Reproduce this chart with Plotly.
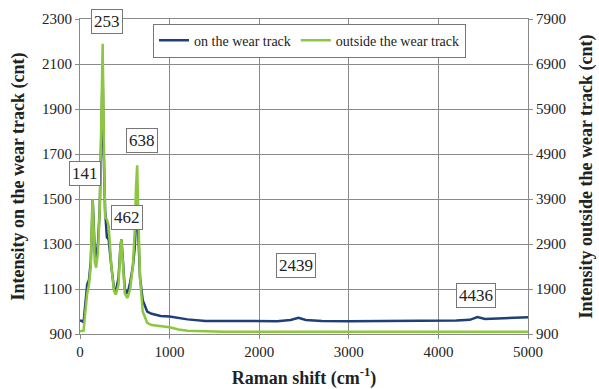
import plotly.graph_objects as go

# Raman shift (cm-1) and intensities
x_on = [0, 20, 40, 60, 80, 100, 120, 135, 141, 150, 165, 180, 200, 220, 240, 253, 265, 280, 300, 320,
        350, 380, 400, 430, 450, 462, 475, 500, 530, 560, 590, 610, 625, 638, 650, 670, 700, 750, 800,
        900, 1000, 1100, 1200, 1400, 1600, 1800, 2000, 2200, 2350, 2439, 2520, 2700, 3000, 3300, 3600,
        3900, 4200, 4350, 4436, 4520, 4700, 5000]
y_on = [960, 958, 952, 1050, 1120, 1140, 1220, 1400, 1500, 1420, 1260, 1240, 1300, 1450, 1800, 2070,
        1700, 1450, 1330, 1320, 1200, 1100, 1090, 1150, 1280, 1320, 1250, 1100, 1080, 1130, 1200, 1280,
        1400, 1480, 1350, 1150, 1050, 1000, 990, 980, 978, 970, 965, 958, 957, 956, 955, 957, 962, 972,
        962, 958, 957, 957, 957, 958, 960, 963, 975, 967, 970, 975]

x_out = [0, 20, 40, 60, 80, 100, 120, 135, 141, 150, 165, 180, 200, 220, 240, 253, 265, 280, 300, 320,
         350, 380, 400, 430, 450, 462, 475, 500, 530, 560, 590, 610, 625, 638, 650, 670, 700, 750, 800,
         900, 1000, 1100, 1200, 1400, 1600, 2000, 3000, 4000, 5000]
y_out = [960, 960, 975, 1400, 1800, 2000, 2400, 3650, 3900, 3400, 2500, 2375, 2700, 3650, 5900, 7350,
         5400, 3500, 3450, 3300, 2400, 1850, 1775, 2000, 2800, 3000, 2600, 1800, 1700, 1900, 2400, 3150,
         4150, 4650, 3650, 2150, 1400, 1150, 1100, 1075, 1050, 1000, 975, 960, 950, 950, 950, 950, 950]

peak_labels = ["253", "141", "638", "462", "2439", "4436"]
left_ticks = [900, 1100, 1300, 1500, 1700, 1900, 2100, 2300]
right_ticks = [900, 1900, 2900, 3900, 4900, 5900, 6900, 7900]

FONT = "Times New Roman, Liberation Serif, DejaVu Serif, serif"
GRID = "#8a8a8a"

fig = go.Figure()
fig.add_trace(go.Scatter(x=x_on, y=y_on, mode="lines", name="on the wear track",
                         line=dict(color="#1f3f7a", width=2.5)))
fig.add_trace(go.Scatter(x=x_out, y=y_out, mode="lines", name="outside the wear track",
                         line=dict(color="#8dc63f", width=2.5), yaxis="y2"))

ann_pos = [(0.060, 0.992), (0.0112, 0.508), (0.138, 0.613), (0.105, 0.371), (0.482, 0.216), (0.884, 0.121)]
for t, (px, py) in zip(peak_labels, ann_pos):
    fig.add_annotation(text=t, x=px, y=py, xref="paper", yref="paper", showarrow=False,
                       xanchor="center", yanchor="middle",
                       font=dict(family=FONT, size=17, color="#222"), bgcolor="white",
                       bordercolor="#777", borderwidth=1, borderpad=2)

fig.update_layout(
    width=599, height=389,
    margin=dict(l=80, r=71, t=19, b=55, autoexpand=False),
    paper_bgcolor="white", plot_bgcolor="white",
    font=dict(family=FONT, size=15, color="#222"),
    showlegend=True,
    legend=dict(orientation="h", x=0.163, y=0.985, xanchor="left", yanchor="top",
                bgcolor="white", bordercolor="#777", borderwidth=1,
                font=dict(family=FONT, size=14, color="#222"), itemwidth=30),
    xaxis=dict(range=[0, 5000], dtick=1000, showgrid=True, gridcolor=GRID, gridwidth=1,
               showline=True, linecolor=GRID, mirror=True, ticks="outside", ticklen=4,
               tickcolor=GRID, zeroline=False, automargin=False,
               title=dict(text="<b>Raman shift (cm<sup>-1</sup>)</b>", font=dict(family=FONT, size=18), standoff=14)),
    yaxis=dict(range=[900, 2300], tickvals=left_ticks, showgrid=True, gridcolor=GRID, gridwidth=1,
               showline=True, linecolor=GRID, mirror=True, ticks="outside", ticklen=4,
               tickcolor=GRID, zeroline=False, automargin=False,
               title=dict(text="<b>Intensity on the wear track (cnt)</b>", font=dict(family=FONT, size=18), standoff=12)),
    yaxis2=dict(range=[900, 7900], tickvals=right_ticks, overlaying="y", side="right",
                showgrid=False, showline=False, ticks="outside", ticklen=4, tickcolor=GRID,
                zeroline=False, automargin=False,
                title=dict(text="<b>Intensity outside the wear track (cnt)</b>", font=dict(family=FONT, size=18), standoff=14)),
)

fig.write_html("out.html")
